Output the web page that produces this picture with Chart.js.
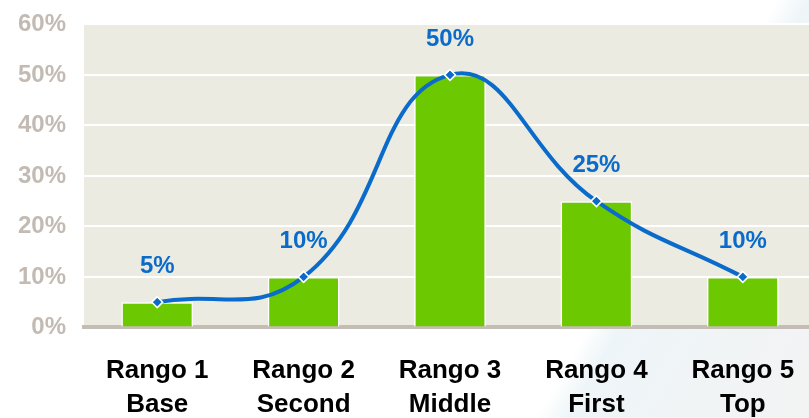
<!DOCTYPE html>
<html><head><meta charset="utf-8">
<script src="https://cdn.jsdelivr.net/npm/chart.js@4"></script>
<style>
html,body{margin:0;padding:0;background:#fff;overflow:hidden;}
#wrap{width:809px;height:418px;position:relative;overflow:hidden;background:linear-gradient(120deg,#ffffff 0%,#ffffff 74%,#eef5f8 77%,#f3f3f3 100%);}
canvas{position:absolute;left:0;top:-8px;}
</style></head>
<body><div id="wrap"><canvas id="c" width="823" height="457"></canvas></div>
<script>
const categories = [['Rango 1','Base'],['Rango 2','Second'],['Rango 3','Middle'],['Rango 4','First'],['Rango 5','Top']];
const barValues = [0.05, 0.10, 0.50, 0.25, 0.10];
const lineValues = [0.05, 0.10, 0.50, 0.25, 0.10];
const valueLabels = ['5%','10%','50%','25%','10%'];

const FONT = '"Liberation Sans", Arial, sans-serif';
const bgPlugin = {
  id:'bg',
  beforeDraw(chart){
    const {ctx, chartArea:a} = chart;
    ctx.save(); ctx.fillStyle='#EBEBE1';
    ctx.fillRect(a.left, a.top, a.right-a.left, a.bottom-a.top);
    ctx.restore();
  }
};
const labelPlugin = {
  id:'vlabels',
  afterDatasetsDraw(chart){
    const meta = chart.getDatasetMeta(1);
    const ctx = chart.ctx;
    ctx.save();
    ctx.font = 'bold 24px ' + FONT;
    ctx.fillStyle = '#0B6BCB';
    ctx.textAlign='center'; ctx.textBaseline='middle';
    meta.data.forEach((p,i)=>{ ctx.fillText(valueLabels[i], p.x, p.y-36); });
    ctx.restore();
  }
};

new Chart(document.getElementById('c'), {
  data:{
    labels: categories,
    datasets:[
      {type:'bar', data:barValues, backgroundColor:'#6CC800', borderColor:'#ffffff', borderWidth:1.5,
       barPercentage:0.49, categoryPercentage:1.0, order:2},
      {type:'line', data:lineValues, borderColor:'#0B6BCB', borderWidth:4, tension:0.45,
       pointStyle:'rectRot', pointRadius:5.5, pointBackgroundColor:'#0B6BCB', pointBorderColor:'#ffffff', pointBorderWidth:1.5, order:1}
    ]
  },
  options:{
    responsive:false, animation:false, devicePixelRatio:1,
    layout:{padding:{top:1,right:0,left:0,bottom:0}},
    plugins:{legend:{display:false}, tooltip:{enabled:false}},
    scales:{
      y:{min:0,max:0.6,
         ticks:{stepSize:0.1, callback:v=>Math.round(v*100)+'%', color:'#C3BBB3',
                font:{family:FONT, size:24, weight:'bold'}, padding:18},
         grid:{color:'#ffffff', lineWidth:2, drawTicks:false},
         border:{display:false}},
      x:{ticks:{color:'#000000', font:{family:FONT, size:26, weight:'bold', lineHeight:1.3}, padding:27, maxRotation:0, autoSkip:false},
         grid:{display:false, drawTicks:false},
         border:{display:true, color:'#C4BDB5', width:4}}
    }
  },
  plugins:[bgPlugin,labelPlugin]
});
</script></body></html>
